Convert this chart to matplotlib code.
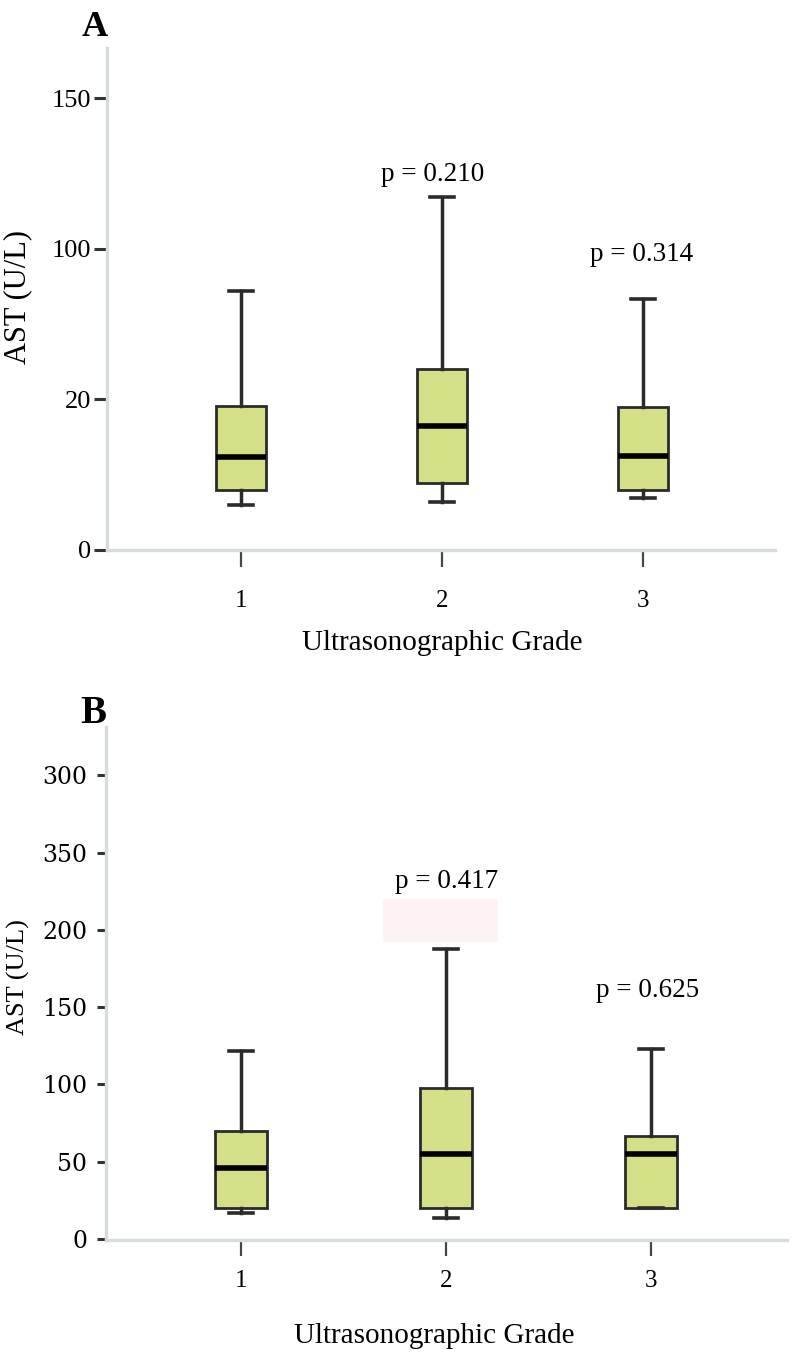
import matplotlib
matplotlib.use("Agg")
import matplotlib.pyplot as plt
from matplotlib.patches import Rectangle

# Data (AST, U/L) per ultrasonographic grade
grades = [1, 2, 3]
grade_labels = ["1", "2", "3"]

# Panel A
a_whislo = [15.0, 16.0, 17.2]
a_q1 = [19.9, 22.2, 19.9]
a_med = [31.0, 41.2, 31.2]
a_q3 = [47.9, 60.1, 47.3]
a_whishi = [86.1, 117.2, 83.3]
a_yticks = [0, 50, 100, 150]
a_yticklabels = ["0", "20", "100", "150"]
a_pvals = ["p = 0.210", "p = 0.314"]

# Panel B
b_whislo = [17.0, 13.8, 20.0]
b_q1 = [19.9, 19.9, 20.0]
b_med = [45.7, 55.0, 55.0]
b_q3 = [70.1, 97.5, 66.6]
b_whishi = [121.8, 187.4, 122.7]
b_yticks = [0, 50, 100, 150, 200, 250, 300]
b_yticklabels = ["0", "50", "100", "150", "200", "350", "300"]
b_pvals = ["p = 0.417", "p = 0.625"]

W, H = 798, 1365
SERIF = "Liberation Serif"
BOX_FILL = "#d5df88"
DARK = "#2b2b2b"
SPINE = "#d6dcdd"

fig = plt.figure(figsize=(W / 100, H / 100), dpi=100)

def px_axes(left, top, right, bottom):
    return fig.add_axes([left / W, 1 - bottom / H, (right - left) / W, (bottom - top) / H])

def make_stats(lo, q1, med, q3, hi):
    stats = []
    for i in range(len(med)):
        stats.append({"whislo": lo[i], "q1": q1[i], "med": med[i], "q3": q3[i],
                      "whishi": hi[i], "fliers": []})
    return stats

def draw_box(ax, stats, width):
    ax.bxp(stats, positions=grades, widths=width, capwidths=0.12, patch_artist=True,
           showfliers=False,
           boxprops=dict(facecolor=BOX_FILL, edgecolor=DARK, linewidth=2.0),
           medianprops=dict(color="black", linewidth=4.0, solid_capstyle="butt"),
           whiskerprops=dict(color=DARK, linewidth=2.5),
           capprops=dict(color=DARK, linewidth=2.6))

def style_axes(ax):
    for s in ["top", "right"]:
        ax.spines[s].set_visible(False)
    for s in ["left", "bottom"]:
        ax.spines[s].set_color(SPINE)
        ax.spines[s].set_linewidth(2.4)
    ax.set_xticks(grades)
    ax.set_xticklabels(grade_labels, fontfamily=SERIF, fontsize=18)

# ---------------- Panel A ----------------
axA = px_axes(107, 48, 775, 550)
draw_box(axA, make_stats(a_whislo, a_q1, a_med, a_q3, a_whishi), 0.25)
axA.set_xlim(0.334, 3.657)
axA.set_ylim(0, 166.6)
style_axes(axA)
axA.set_yticks(a_yticks)
axA.set_yticklabels(a_yticklabels, fontfamily=SERIF, fontsize=19)
axA.tick_params(axis="y", direction="out", length=9.4, width=2.2, color="#333333", pad=2)
axA.tick_params(axis="x", direction="out", length=12, width=1.6, color="#3d4a4a", pad=17)
axA.text(1.955, 122.6, a_pvals[0], ha="center", va="baseline", fontfamily=SERIF, fontsize=19.5)
axA.text(2.995, 96.0, a_pvals[1], ha="center", va="baseline", fontfamily=SERIF, fontsize=19.5)

# ---------------- Panel B ----------------
axB = px_axes(106, 727, 787, 1240)
# faint pink patch under the grade-2 p value
axB.add_patch(Rectangle((1.691, 192.3), 0.56, 27.6, facecolor="#fdf3f5", edgecolor="none", zorder=0))
draw_box(axB, make_stats(b_whislo, b_q1, b_med, b_q3, b_whishi), 0.254)
axB.set_xlim(0.341, 3.663)
axB.set_ylim(-0.65, 331.2)
style_axes(axB)
axB.set_yticks(b_yticks)
axB.set_yticklabels(b_yticklabels, fontfamily="DejaVu Serif", fontsize=17)
axB.tick_params(axis="y", direction="out", length=6.5, width=2.2, color="#333333", pad=7)
axB.tick_params(axis="x", direction="out", length=11.5, width=1.6, color="#3d4a4a", pad=10)
axB.text(2.003, 227.0, b_pvals[0], ha="center", va="baseline", fontfamily=SERIF, fontsize=19.5)
axB.text(2.985, 156.7, b_pvals[1], ha="center", va="baseline", fontfamily=SERIF, fontsize=19.5)

# ---------------- labels ----------------
def ftext(x, y, s, **kw):
    fig.text(x / W, 1 - y / H, s, **kw)

ftext(108, 36, "A", ha="right", va="baseline", fontfamily=SERIF, fontweight="bold", fontsize=26)
ftext(106, 723, "B", ha="right", va="baseline", fontfamily=SERIF, fontweight="bold", fontsize=28)
ftext(442, 650, "Ultrasonographic Grade", ha="center", va="baseline", fontfamily=SERIF, fontsize=21)
ftext(434, 1343, "Ultrasonographic Grade", ha="center", va="baseline", fontfamily=SERIF, fontsize=21)
ftext(18, 297, "AST (U/L)", ha="center", va="center", rotation=90, fontfamily=SERIF, fontsize=22)
ftext(18, 977, "AST (U/L)", ha="center", va="center", rotation=90, fontfamily=SERIF, fontsize=19)

fig.savefig("out.png", dpi=100, facecolor="white")
